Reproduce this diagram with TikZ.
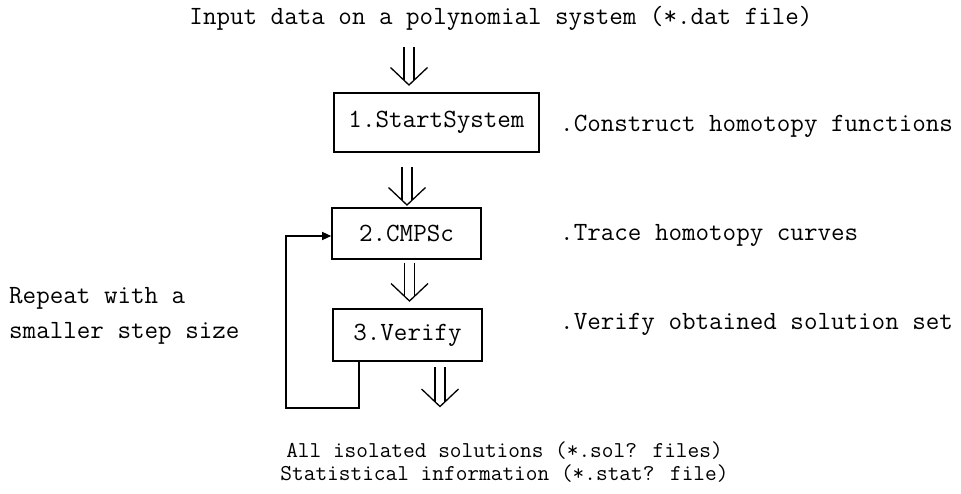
\documentclass[tikz,border=0pt]{standalone}
\usetikzlibrary{arrows.meta}
\begin{document}
\begin{tikzpicture}[x=1pt,y=-1pt,
  txt/.style={inner sep=0pt,font=\ttfamily\fontsize{26.3}{30}\selectfont},
  smalltxt/.style={inner sep=0pt,font=\ttfamily\fontsize{22.7}{26}\selectfont},
  boxnode/.style={draw,line width=1.6pt,minimum height=59pt,inner sep=0pt,font=\ttfamily\fontsize{26.3}{30}\selectfont},
  dbl/.pic={
    \draw[line width=1.3pt] (-5,0) -- (-5,\tipy-4.7) (5,0) -- (5,\tipy-4.7);
    \draw[line width=1.3pt,line join=miter] (-18.5,\tipy-17.5) -- (0,\tipy) -- (18.5,\tipy-17.5);
  }]
\useasboundingbox (0,0) rectangle (961,494);
\node[txt] (input) at (501,18) {Input data on a polynomial system (*.dat file)};
\node[boxnode,minimum width=205pt] (b1) at (436.5,122.5) {1.StartSystem};
\node[boxnode,minimum width=149pt,minimum height=51pt] (b2) at (406.5,233.5) {2.CMPSc};
\node[boxnode,minimum width=149pt,minimum height=52pt] (b3) at (407.5,335) {3.Verify};
\node[txt,anchor=west] (r1) at (560,126) {.Construct homotopy functions};
\node[txt,anchor=west] (r2) at (560,235) {.Trace homotopy curves};
\node[txt,anchor=west] (r3) at (560,324) {.Verify obtained solution set};
\node[txt,anchor=west] (l1) at (9,298) {Repeat with a};
\node[txt,anchor=west] (l2) at (9,333) {smaller step size};
\node[smalltxt] (o1) at (504.5,451) {All isolated solutions (*.sol? files)};
\node[smalltxt] (o2) at (504.5,474) {Statistical information (*.stat? file)};
\def\tipy{38}
\pic at (409,47) {dbl};
\def\tipy{38}
\pic at (407,167) {dbl};
\def\tipy{38}
\pic at (409.5,263) {dbl};
\def\tipy{39.5}
\pic at (440,367) {dbl};
\coordinate (c1) at (359,408);
\coordinate (c2) at (286,408);
\coordinate (c3) at (286,236);
\draw[line width=1.3pt,-{Triangle[length=9pt,width=8pt]}] (b3.south -| c1) -- (c1) -- (c2) -- (c3) -- (c3 -| b2.west);
\end{tikzpicture}
\end{document}
